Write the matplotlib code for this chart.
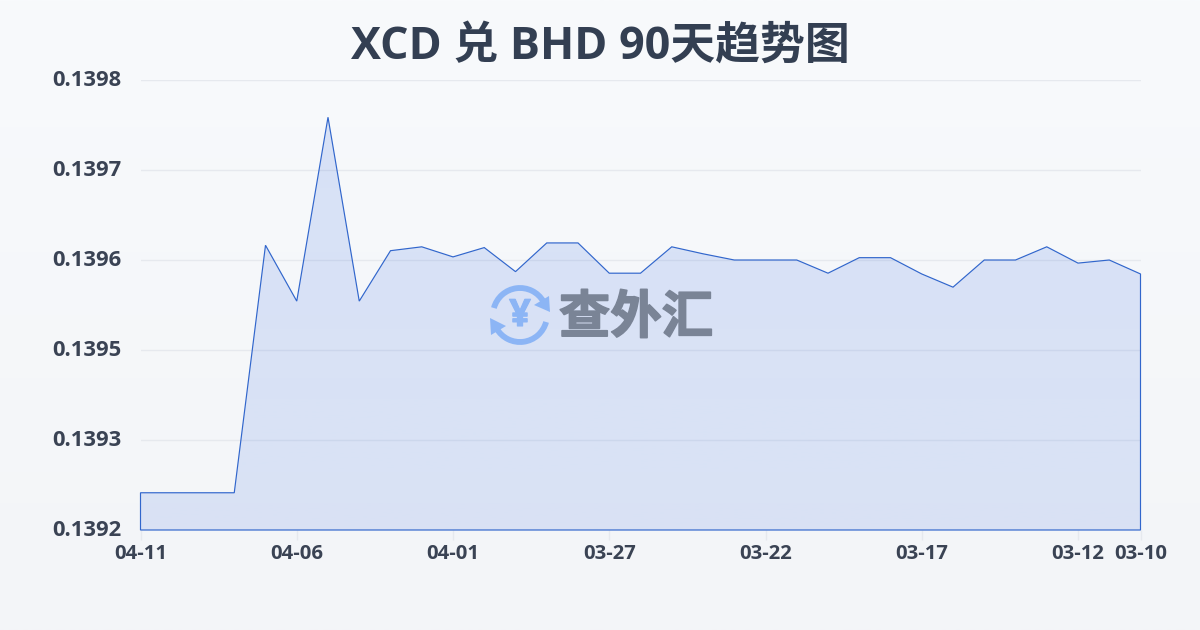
import numpy as np
import matplotlib
matplotlib.use("Agg")
import matplotlib.pyplot as plt
import matplotlib.patheffects as pe
from matplotlib.patches import Arc, Polygon
from matplotlib.transforms import ScaledTranslation

plt.rcParams['font.family'] = ['Open Sans', 'Noto Sans CJK SC', 'DejaVu Sans']

title = "XCD 兑 BHD 90天趋势图"
dates = ["04-11","04-10","04-09","04-08","04-07","04-06","04-05","04-04","04-03","04-02","04-01",
         "03-31","03-30","03-29","03-28","03-27","03-26","03-25","03-24","03-23","03-22",
         "03-21","03-20","03-19","03-18","03-17","03-16","03-15","03-14","03-13","03-12","03-11","03-10"]
rates = [0.139268,0.139268,0.139268,0.139268,0.139587,0.139515,0.139752,0.139515,0.139580,0.139585,
         0.139572,0.139584,0.139553,0.139590,0.139590,0.139551,0.139551,0.139585,0.139576,0.139568,
         0.139568,0.139568,0.139551,0.139571,0.139571,0.139550,0.139533,0.139568,0.139568,0.139585,
         0.139564,0.139568,0.139550]
y_ticks = [0.13922,0.139336,0.139452,0.139568,0.139684,0.1398]
x_labelled = ["04-11","04-06","04-01","03-27","03-22","03-17","03-12","03-10"]

W, H = 1200, 630
fig = plt.figure(figsize=(12, 6.3), dpi=100)

bg = fig.add_axes([0, 0, 1, 1], zorder=0)
bg.set_axis_off()
top, bot = np.array([0xf8,0xfa,0xfc])/255, np.array([0xf3,0xf5,0xf8])/255
g = np.linspace(0, 1, 256)[:, None, None]
bg.imshow(top*(1-g)+bot*g, aspect='auto', extent=[0, 1, 0, 1])

ax = fig.add_axes([140.5/W, 1-530/H, 1000/W, 450/H], zorder=1)
ax.patch.set_alpha(0)
x = np.arange(len(rates))
ymin, ymax = y_ticks[0], y_ticks[-1]

for t in y_ticks:
    ax.axhline(t, color='#e6e9ee', lw=1, zorder=1)

poly = Polygon(list(zip(x, rates)) + [(x[-1], ymin), (0, ymin)], closed=True,
               facecolor='none', edgecolor='none')
ax.add_patch(poly)
grad = np.zeros((256, 1, 4))
grad[..., :3] = np.array([0x2a,0x62,0xe0])/255
grad[..., 3] = np.linspace(0.155, 0.13, 256)[:, None]
im = ax.imshow(grad, aspect='auto', extent=[0, len(rates)-1, ymin, ymax], zorder=2, origin='upper')
im.set_clip_path(poly)
ax.set_xlim(0, len(rates)-1)
ax.set_ylim(ymin, ymax)

outline = Polygon(list(zip(x, rates)) + [(x[-1], ymin), (0, ymin)], closed=True,
                  facecolor='none', edgecolor='#3166cc', lw=0.85, zorder=3, clip_on=False, joinstyle='miter')
ax.add_patch(outline)

for s in ax.spines.values():
    s.set_visible(False)
ax.set_yticks(y_ticks)
ax.set_yticklabels([f"{t:.4f}" for t in y_ticks], fontsize=15.8, fontweight='bold', color='#3a4354')
ax.tick_params(axis='y', length=0, pad=14)
shift = ScaledTranslation(0, 2/100, fig.dpi_scale_trans)
for lab in ax.get_yticklabels():
    lab.set_transform(lab.get_transform() + shift)
xt = [dates.index(d) for d in x_labelled]
ax.set_xticks(xt)
ax.set_xticklabels(x_labelled, fontsize=14.6, fontweight='bold', color='#3a4354')
ax.tick_params(axis='x', length=7, width=1, color='#e6e9ee', pad=3.2)

fig.text(600/W, 1-47.5/H, title, ha='center', va='center', fontsize=32.3, fontweight='bold', color='#333f52')

ov = fig.add_axes([0, 0, 1, 1], zorder=3)
ov.set_axis_off()
ov.patch.set_alpha(0)
ov.set_xlim(0, W)
ov.set_ylim(H, 0)
blue = '#8cb5f5'
ov.add_patch(Arc((520, 315), 54, 54, theta1=195, theta2=330, color=blue, lw=4.2))
ov.add_patch(Arc((520, 315), 54, 54, theta1=15, theta2=150, color=blue, lw=4.2))
ov.add_patch(Polygon([(549, 296), (550, 312), (534, 305)], closed=True, fc=blue, ec='none'))
ov.add_patch(Polygon([(491, 335), (490, 318), (506, 326)], closed=True, fc=blue, ec='none'))
ov.text(520, 316, "¥", ha='center', va='center', fontsize=27, fontweight='bold', color=blue,
        path_effects=[pe.withStroke(linewidth=0.8, foreground=blue)])
ov.text(636, 320, "查外汇", ha='center', va='center', fontsize=37, fontweight='bold', color='#7a8496',
        path_effects=[pe.withStroke(linewidth=1.2, foreground='#7a8496')])

fig.savefig("out.png", dpi=100)
